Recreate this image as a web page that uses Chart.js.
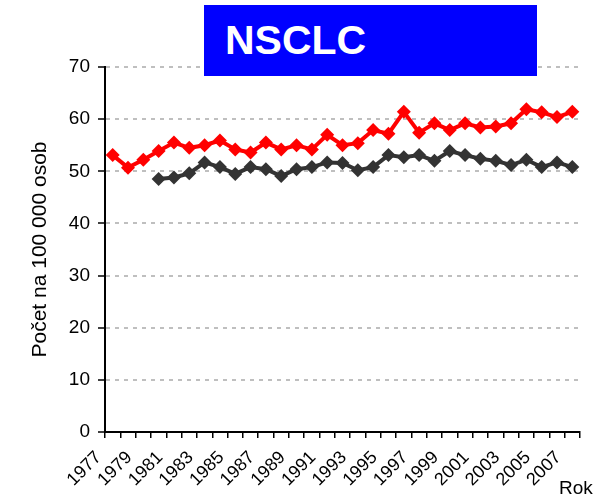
<!DOCTYPE html>
<html lang="en">
<head>
  <meta charset="UTF-8">
  <title>NSCLC</title>
  <script src="https://cdn.jsdelivr.net/npm/chart.js"></script>
  <style>
    body { margin: 0; background: #fff; }
    #wrap { position: relative; width: 601px; height: 502px; }
    #badge {
      position: absolute; left: 204px; top: 5px; width: 333px; height: 71px;
      background: #0000ff; color: #fff; font: bold 41px "Liberation Sans", Arial, sans-serif;
      line-height: 71px; padding-left: 21px; box-sizing: border-box;
    }
    #rok { position: absolute; left: 559px; top: 477px; font: 19px "Liberation Sans", Arial, sans-serif; }
  </style>
</head>
<body>
<div id="wrap">
  <canvas id="chart" width="601" height="502"></canvas>
  <div id="badge">NSCLC</div>
  <div id="rok">Rok</div>
</div>

<script>
// years on the x axis
const years = ['1977','1978','1979','1980','1981','1982','1983','1984','1985','1986',
  '1987','1988','1989','1990','1991','1992','1993','1994','1995','1996',
  '1997','1998','1999','2000','2001','2002','2003','2004','2005','2006','2007'];

// red series
const redValues = [53.1, 50.7, 52.2, 53.9, 55.5, 54.5, 55.0, 55.9, 54.2, 53.6,
  55.5, 54.2, 55.0, 54.2, 57.0, 55.0, 55.4, 57.9, 57.2, 61.4,
  57.4, 59.2, 57.9, 59.2, 58.4, 58.6, 59.2, 61.9, 61.3, 60.4, 61.4];

// dark series (starts 1980)
const darkValues = [null, null, null, 48.5, 48.8, 49.6, 51.7, 50.8, 49.5, 50.8,
  50.4, 49.1, 50.4, 50.8, 51.7, 51.6, 50.2, 50.8, 53.1, 52.7,
  53.1, 52.0, 53.9, 53.1, 52.4, 52.0, 51.2, 52.2, 50.8, 51.7, 50.8];

const yTicks = [0, 10, 20, 30, 40, 50, 60, 70];

const font = 'Liberation Sans, Arial, sans-serif';

function series(data, color) {
  return {
    data: data,
    borderColor: color,
    backgroundColor: color,
    borderWidth: 4,
    pointStyle: 'rectRot',
    pointRadius: 7,
    pointHoverRadius: 7,
    pointBorderWidth: 0,
    tension: 0,
    fill: false
  };
}

new Chart(document.getElementById('chart'), {
  type: 'line',
  data: {
    labels: years,
    datasets: [series(redValues, '#ff0000'), series(darkValues, '#333333')]
  },
  options: {
    responsive: false,
    animation: false,
    layout: { padding: { left: 28, top: 67, right: 21, bottom: 0 } },
    plugins: { legend: { display: false }, tooltip: { enabled: false } },
    scales: {
      x: {
        offset: true,
        grid: {
          offset: true,
          drawOnChartArea: false,
          drawTicks: true,
          tickLength: 6,
          color: '#000',
          lineWidth: 1.5
        },
        border: { color: '#000', width: 2 },
        ticks: {
          autoSkip: false,
          maxRotation: 45,
          minRotation: 45,
          color: '#000',
          font: { family: font, size: 18 },
          padding: 9,
          labelOffset: -14,
          callback: function (v, i) { return i % 2 === 0 ? years[i] : ''; }
        },
        afterFit: function (s) { s.height = 70; }
      },
      y: {
        min: 0,
        max: 70,
        afterBuildTicks: function (s) { s.ticks = yTicks.map(v => ({ value: v })); },
        grid: {
          color: '#bfbfbf',
          lineWidth: 2,
          tickColor: '#000',
          tickLength: 7,
          tickBorderDash: [],
          tickWidth: 1.5
        },
        border: { color: '#000', width: 2, dash: [4, 5] },
        ticks: { color: '#000', font: { family: font, size: 19 }, padding: 8 },
        title: {
          display: true,
          text: 'Počet na 100 000 osob',
          color: '#000',
          font: { family: font, size: 21 },
          padding: { top: 0, bottom: 5 }
        },
        afterFit: function (s) { s.width = 77; }
      }
    }
  }
});
</script>
</body>
</html>
